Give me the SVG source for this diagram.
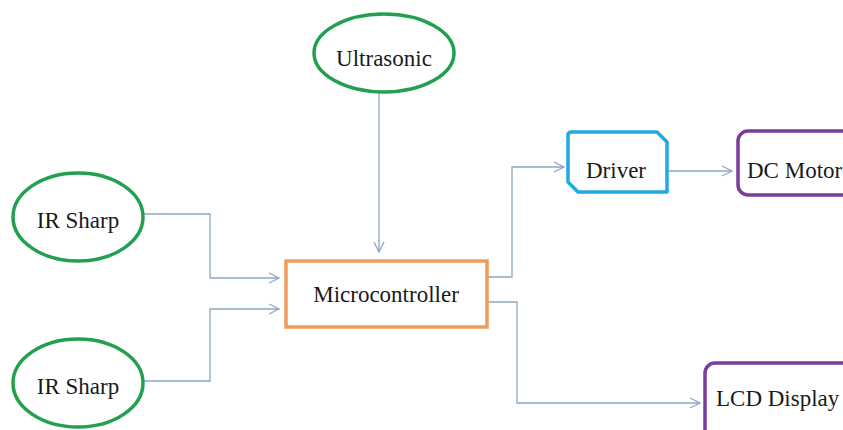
<svg xmlns="http://www.w3.org/2000/svg" width="843" height="430" viewBox="0 0 843 430">
<style>
.t{font-family:"Liberation Serif","Times New Roman",serif;font-size:23px;fill:#1a1a1a}
.ell{fill:#fff;stroke:#22a04f;stroke-width:3.5}
.con{fill:none;stroke:#8ea6c4;stroke-width:1.3}
</style>
<defs>
<marker id="ah" viewBox="0 0 12 12" refX="11" refY="6" markerWidth="12" markerHeight="12" markerUnits="userSpaceOnUse" orient="auto">
<path d="M1,1 L11,6 L1,11" fill="none" stroke="#8ea6c4" stroke-width="1.3"/>
</marker>
</defs>
<rect width="843" height="430" fill="#fff"/>
<g id="connectors">
<path class="con" d="M379,92 V252" marker-end="url(#ah)"/>
<path class="con" d="M143,214 H210 V278 H279" marker-end="url(#ah)"/>
<path class="con" d="M143,381 H210 V309 H279" marker-end="url(#ah)"/>
<path class="con" d="M488,277 H512 V167 H564" marker-end="url(#ah)"/>
<path class="con" d="M668,171 H732" marker-end="url(#ah)"/>
<path class="con" d="M488,302 H517 V403 H700" marker-end="url(#ah)"/>
</g>
<g id="ultrasonic">
<ellipse class="ell" cx="384" cy="53" rx="70" ry="39"/>
<text class="t" x="384" y="66" text-anchor="middle">Ultrasonic</text>
</g>
<g id="irsharp1">
<ellipse class="ell" cx="78" cy="217" rx="65" ry="44"/>
<text class="t" x="78" y="228" text-anchor="middle">IR Sharp</text>
</g>
<g id="irsharp2">
<ellipse class="ell" cx="78" cy="383" rx="65" ry="44"/>
<text class="t" x="78" y="394" text-anchor="middle">IR Sharp</text>
</g>
<g id="microcontroller">
<rect x="286" y="261" width="201" height="66" fill="#fff" stroke="#ef9b5a" stroke-width="3.5"/>
<text class="t" x="386" y="302" text-anchor="middle">Microcontroller</text>
</g>
<g id="driver">
<path d="M570,132 H657 L667,142 V192 H578 L568,182 V134 Z" fill="#fff" stroke="#22a9e0" stroke-width="3.5" stroke-linejoin="round"/>
<text class="t" x="616" y="178" text-anchor="middle">Driver</text>
</g>
<g id="dcmotor">
<rect x="738" y="131" width="130" height="64" rx="10" fill="#fff" stroke="#7a3d9e" stroke-width="3.5"/>
<text class="t" x="747" y="178">DC Motor</text>
</g>
<g id="lcd">
<rect x="705" y="363" width="160" height="90" rx="10" fill="#fff" stroke="#7a3d9e" stroke-width="3.5"/>
<text class="t" x="716" y="406">LCD Display</text>
</g>
</svg>
